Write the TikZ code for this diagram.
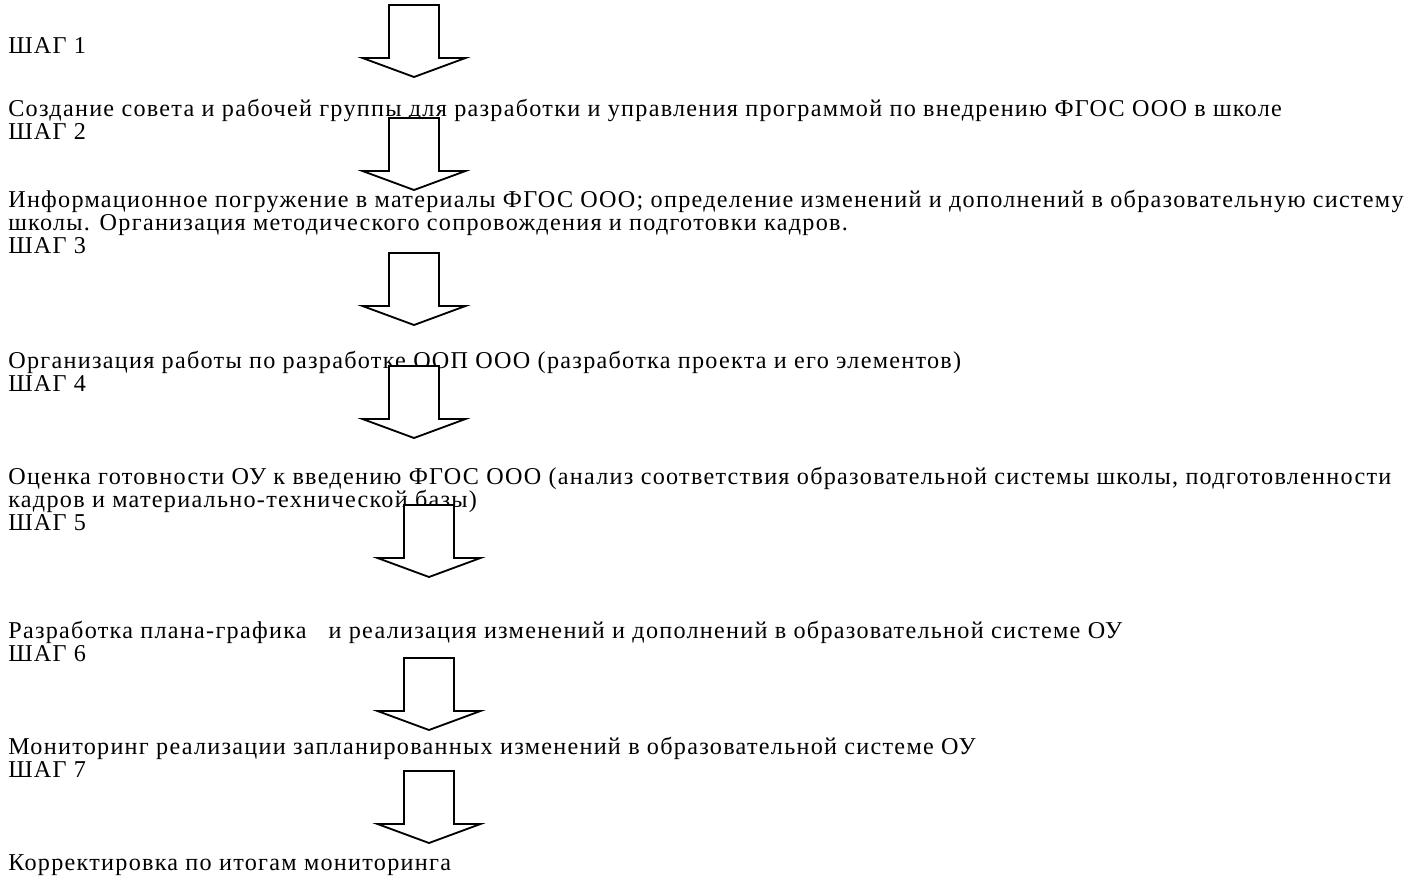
\documentclass[tikz,border=0pt]{standalone}
\usepackage{fontspec}
\setmainfont{Liberation Serif}[LetterSpace=5.3]
\tikzset{
  steptext/.style={anchor=base west, inner sep=0pt, font=\fontsize{14.5}{16.5}\selectfont},
  bigarrow/.style={draw, line width=1.1pt, fill=white, line join=miter}
}
\begin{document}
\begin{tikzpicture}[x=0.6pt,y=-0.6pt]
\useasboundingbox (0,0) rectangle (1408,885);
% steps and tasks
\node[steptext] (step1) at (8,54) {ШАГ 1};
\node[steptext] (task1) at (8,117) {Создание совета и рабочей группы для разработки и управления программой по внедрению ФГОС ООО в школе};
\node[steptext] (step2) at (8,140) {ШАГ 2};
\node[steptext] (task2) at (8,207) {Информационное погружение в материалы ФГОС ООО; определение изменений и дополнений в образовательную систему};
\node[steptext] (task2b) at (8,230) {школы. Организация методического сопровождения и подготовки кадров.};
\node[steptext] (step3) at (8,253) {ШАГ 3};
\node[steptext] (task3) at (8,368) {Организация работы по разработке ООП ООО (разработка проекта и его элементов)};
\node[steptext] (step4) at (8,391) {ШАГ 4};
\node[steptext] (task4) at (8,484) {Оценка готовности ОУ к введению ФГОС ООО (анализ соответствия образовательной системы школы, подготовленности};
\node[steptext] (task4b) at (8,507) {кадров и материально-технической базы)};
\node[steptext] (step5) at (8,530) {ШАГ 5};
\node[steptext] (task5) at (8,638) {Разработка плана-графика \ \ и реализация изменений и дополнений в образовательной системе ОУ};
\node[steptext] (step6) at (8,661) {ШАГ 6};
\node[steptext] (task6) at (8,754) {Мониторинг реализации запланированных изменений в образовательной системе ОУ};
\node[steptext] (step7) at (8,777) {ШАГ 7};
\node[steptext] (task7) at (8,870) {Корректировка по итогам мониторинга};
% block arrows: centre x / top y
\foreach \cx/\ty in {414/5, 414/118, 414/253, 414/366, 429/505, 429/658, 429/771}
  \draw[bigarrow] (\cx-25,\ty) -- (\cx+25,\ty) -- (\cx+25,\ty+53) -- (\cx+51.5,\ty+53)
    -- (\cx,\ty+72) -- (\cx-51.5,\ty+53) -- (\cx-25,\ty+53) -- cycle;
\end{tikzpicture}
\end{document}
